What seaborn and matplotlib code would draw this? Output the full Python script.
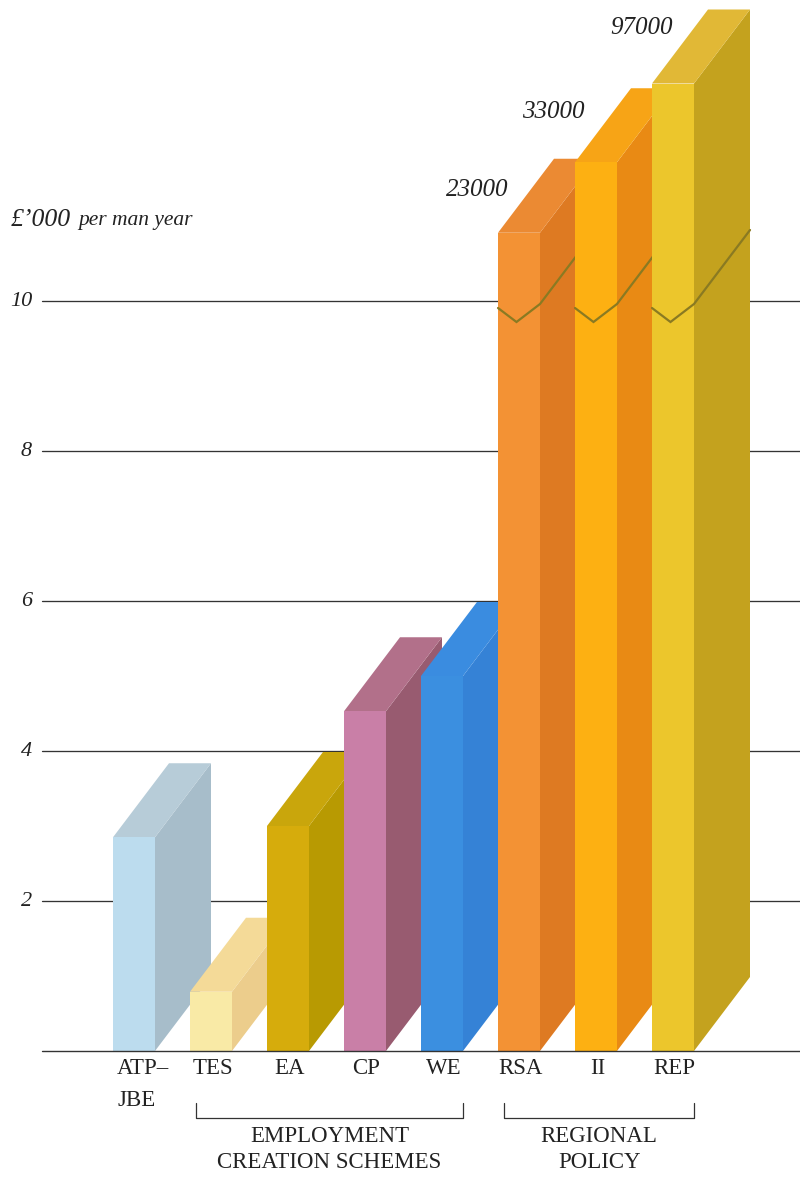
import matplotlib
matplotlib.use("Agg")
import matplotlib.pyplot as plt
import seaborn as sns
import pandas as pd
from matplotlib.patches import Polygon

# ---------------- data ----------------
categories = ["ATP–\nJBE", "TES", "EA", "CP", "WE", "RSA", "II", "REP"]
values = [2.85, 0.79, 3.0, 4.53, 5.0, 23.0, 33.0, 97.0]          # £'000 per man year
value_labels = ["", "", "", "", "", "23000", "33000", "97000"]
yticks = [2, 4, 6, 8, 10]
ylabel_main = "£’000"
ylabel_rest = "per man year"
groups = ["EMPLOYMENT\nCREATION SCHEMES", "REGIONAL\nPOLICY"]
group_span = [(1, 4), (5, 7)]

# broken bars: drawn (compressed) heights for values beyond the scale
drawn_cap = {5: 10.91, 6: 11.85, 7: 12.9}

front_colors = ["#bcdcee", "#f9eaa6", "#d6ac0c", "#c97fa7", "#3b8fe0", "#f39234", "#fdb012", "#ecc62c"]
side_colors = ["#a7bdca", "#eccd8c", "#b89a02", "#985b70", "#3582d6", "#de7a22", "#e98a14", "#c4a21e"]
top_colors = ["#b7ccd8", "#f4da98", "#c9a60c", "#b2708a", "#3a8ce0", "#eb8a33", "#f7a416", "#e1b836"]

# ---------------- layout ----------------
W, H = 800, 1178
PXX = 77.0   # px per category
PXY = 75.0   # px per unit
X0 = 134.0   # px of first category
Y0 = 1051.0  # px (from top) of zero

def X(px):
    return (px - X0) / PXX

def Y(py):
    return (Y0 - py) / PXY

DX = 56 / PXX
DY = 74 / PXY
INK = "#222222"

sns.set_theme(style="white")
plt.rcParams["font.family"] = ["Liberation Serif", "DejaVu Serif"]

fig = plt.figure(figsize=(W / 100, H / 100), dpi=100)
ax = fig.add_axes([0, 0, 1, 1])

drawn = [drawn_cap.get(i, v) for i, v in enumerate(values)]
df = pd.DataFrame({"cat": categories, "h": drawn})
sns.barplot(data=df, x="cat", y="h", hue="cat", palette=front_colors, saturation=1,
            width=42 / PXX, legend=False, ax=ax, linewidth=0)
ax.set_xlim(X(0), X(W))
ax.set_ylim(Y(H), Y(0))
ax.axis("off")

bars = sorted(list(ax.patches), key=lambda p: p.get_x())
label_pos = {5: (477, 190), 6: (553, 112), 7: (642, 28)}
for i, p in enumerate(bars):
    z = 3 + i
    p.set_zorder(z + 0.2)
    xl = p.get_x()
    xr = xl + p.get_width()
    h = p.get_height()
    side = Polygon([(xr, 0), (xr + DX, DY), (xr + DX, h + DY), (xr, h)],
                   closed=True, facecolor=side_colors[i], edgecolor="none", zorder=z)
    top = Polygon([(xl, h), (xr, h), (xr + DX, h + DY), (xl + DX, h + DY)],
                  closed=True, facecolor=top_colors[i], edgecolor="none", zorder=z + 0.1)
    ax.add_patch(side)
    ax.add_patch(top)
    if i in drawn_cap:
        # break mark
        yl, yv, yr = Y(308), Y(322), Y(304)
        xv = xl + 0.44 * (xr - xl)
        ax.plot([xl, xv, xr, xr + DX], [yl, yv, yr, yr + DY], color="#8a7a22",
                lw=1.6, zorder=z + 0.3, solid_joinstyle="miter")
        lx, ly = label_pos[i]
        ax.text(X(lx), Y(ly), value_labels[i], ha="center", va="center",
                fontsize=18, style="italic", color=INK, zorder=30)

# gridlines and tick labels
for t in yticks:
    ax.plot([X(42), X(W)], [t, t], color="#333333", lw=0.95, zorder=1)
    ax.text(X(32), t, str(t), ha="right", va="center", fontsize=16, style="italic", color=INK)
ax.plot([X(42), X(W)], [0, 0], color="#333333", lw=1.0, zorder=40)

# axis title
ax.text(X(11), Y(220), ylabel_main, ha="left", va="center", fontsize=18.5, style="italic", color=INK)
ax.text(X(78), Y(221), ylabel_rest, ha="left", va="center", fontsize=15.5, style="italic", color=INK)

# category labels
for i, c in enumerate(categories):
    if "\n" in c:
        a, b = c.split("\n")
        ax.text(X(117), Y(1068), a, ha="left", va="center", fontsize=16.5, color=INK)
        ax.text(X(117), Y(1100), b, ha="left", va="center", fontsize=16.5, color=INK)
    else:
        ax.text(i + 0.02, Y(1068), c, ha="center", va="center", fontsize=16.5, color=INK)

# group brackets
for g, (a, b) in zip(groups, group_span):
    xa = bars[a].get_x() + 0.08
    xb = bars[b].get_x() + bars[b].get_width() - 0.0
    ax.plot([xa, xa, xb, xb], [Y(1103), Y(1118), Y(1118), Y(1103)], color="#333333", lw=0.9)
    l1, l2 = g.split("\n")
    xc = (xa + xb) / 2
    ax.text(xc, Y(1136), l1, ha="center", va="center", fontsize=16.5, color=INK)
    ax.text(xc, Y(1163), l2, ha="center", va="center", fontsize=16.5, color=INK)

fig.savefig("out.png", dpi=100, facecolor="white")
